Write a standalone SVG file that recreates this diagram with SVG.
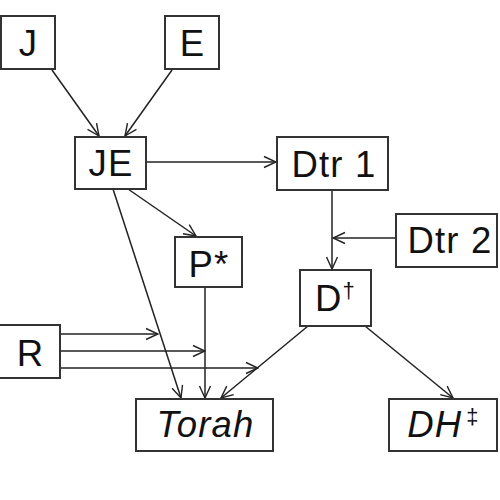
<svg xmlns="http://www.w3.org/2000/svg" width="500" height="500" viewBox="0 0 500 500">
<defs>
<marker id="ah" markerWidth="14" markerHeight="14" refX="13" refY="7" orient="auto" markerUnits="userSpaceOnUse">
<path d="M1,1.5 L13,7 L1,12.5" fill="none" stroke="#222" stroke-width="1.4"/>
</marker>
<style>
.box{fill:#fff;stroke:#333;stroke-width:2}
.t{font-family:"Liberation Sans",Arial,sans-serif;font-size:36.5px;letter-spacing:1.2px;fill:#111;text-anchor:middle}
.i{font-style:italic}
.c{fill:none;stroke:#222;stroke-width:1.5;marker-end:url(#ah)}
</style>
</defs>
<rect width="500" height="500" fill="#fff"/>
<g id="connectors">
<line class="c" x1="52" y1="70" x2="99" y2="136"/>
<line class="c" x1="172" y1="70" x2="125" y2="136"/>
<line class="c" x1="146" y1="162" x2="276" y2="162"/>
<line class="c" x1="332" y1="190" x2="332" y2="269"/>
<line class="c" x1="396" y1="238" x2="333" y2="238"/>
<line class="c" x1="128" y1="189" x2="196" y2="236"/>
<line class="c" x1="113" y1="189" x2="181" y2="398"/>
<line class="c" x1="205" y1="287" x2="205" y2="398"/>
<line class="c" x1="308" y1="326" x2="221" y2="398"/>
<line class="c" x1="365" y1="326" x2="453" y2="398"/>
<line class="c" x1="61" y1="334" x2="158" y2="334"/>
<line class="c" x1="61" y1="351" x2="205" y2="351"/>
<line class="c" x1="61" y1="368" x2="258" y2="368"/>
</g>
<g id="J"><rect class="box" x="1" y="16" width="54" height="53"/><text class="t" x="28.5" y="56">J</text></g>
<g id="E"><rect class="box" x="165" y="16" width="54" height="53"/><text class="t" x="192.5" y="56">E</text></g>
<g id="JE"><rect class="box" x="75" y="137" width="71" height="52"/><text class="t" x="111" y="176">JE</text></g>
<g id="Dtr1"><rect class="box" x="277" y="137" width="111" height="53"/><text class="t" x="334" y="177">Dtr 1</text></g>
<g id="Dtr2"><rect class="box" x="396" y="214" width="101" height="53"/><text class="t" x="450" y="253">Dtr 2</text></g>
<g id="P"><rect class="box" x="175" y="237" width="67" height="50"/><text class="t" x="209" y="277">P*</text></g>
<g id="D"><rect class="box" x="300" y="270" width="71" height="56"/><text class="t" x="335.5" y="311">D<tspan font-size="22" dy="-13">†</tspan></text></g>
<g id="R"><rect class="box" x="-2" y="325" width="62" height="53"/><text class="t" x="30.5" y="366">R</text></g>
<g id="Torah"><rect class="box" x="136" y="399" width="137" height="52"/><text class="t i" x="205.5" y="437">Torah</text></g>
<g id="DH"><rect class="box" x="389" y="399" width="108" height="52"/><text class="t" x="443.5" y="437"><tspan class="i">DH</tspan><tspan font-size="22" dx="4" dy="-13">‡</tspan></text></g>
</svg>
